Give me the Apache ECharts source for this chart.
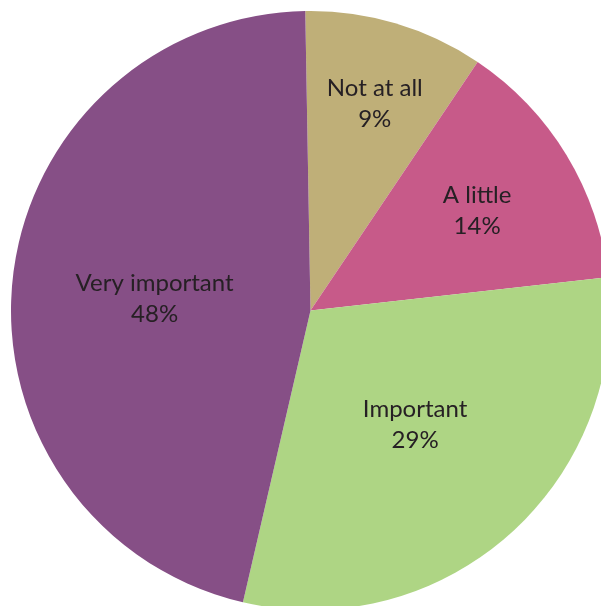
<!DOCTYPE html>
<html>
<head>
<meta charset="utf-8">
<script src="https://cdn.jsdelivr.net/npm/echarts@6/dist/echarts.min.js"></script>
<style>
  html, body { margin: 0; padding: 0; background: #fff; }
  #chart { width: 601px; height: 606px; }
</style>
</head>
<body>
<div id="chart"></div>
<script>
// slice shares as drawn, and the percentages printed on them
var categories = ['Not at all', 'A little', 'Important', 'Very important'];
var values = [9.7, 13.8, 30.4, 46.1];
var pctLabels = ['9%', '14%', '29%', '48%'];
var colors = ['#BFAF78', '#C75A89', '#AED584', '#864F86'];

// small nudges for the inside labels
var labelDx = [21, 36, 3, -4];
var labelDy = [-60, -21, 0, 4];

var chart = echarts.init(document.getElementById('chart'), null, { renderer: 'canvas' });

var data = categories.map(function (name, i) {
    return { name: name, value: values[i], itemStyle: { color: colors[i] } };
});

chart.setOption({
    animation: false,
    series: [{
        type: 'pie',
        center: [310.5, 310.5],
        radius: 299.5,
        startAngle: 91,
        clockwise: true,
        data: data,
        itemStyle: { borderWidth: 0 },
        label: {
            show: true,
            position: 'inside',
            fontFamily: 'Lato',
            fontSize: 24,
            lineHeight: 31,
            color: '#262024',
            formatter: function (p) {
                return p.name + '\n' + pctLabels[p.dataIndex];
            }
        },
        labelLayout: function (p) {
            return { dx: labelDx[p.dataIndex], dy: labelDy[p.dataIndex] };
        },
        emphasis: { disabled: true }
    }]
});
</script>
</body>
</html>
